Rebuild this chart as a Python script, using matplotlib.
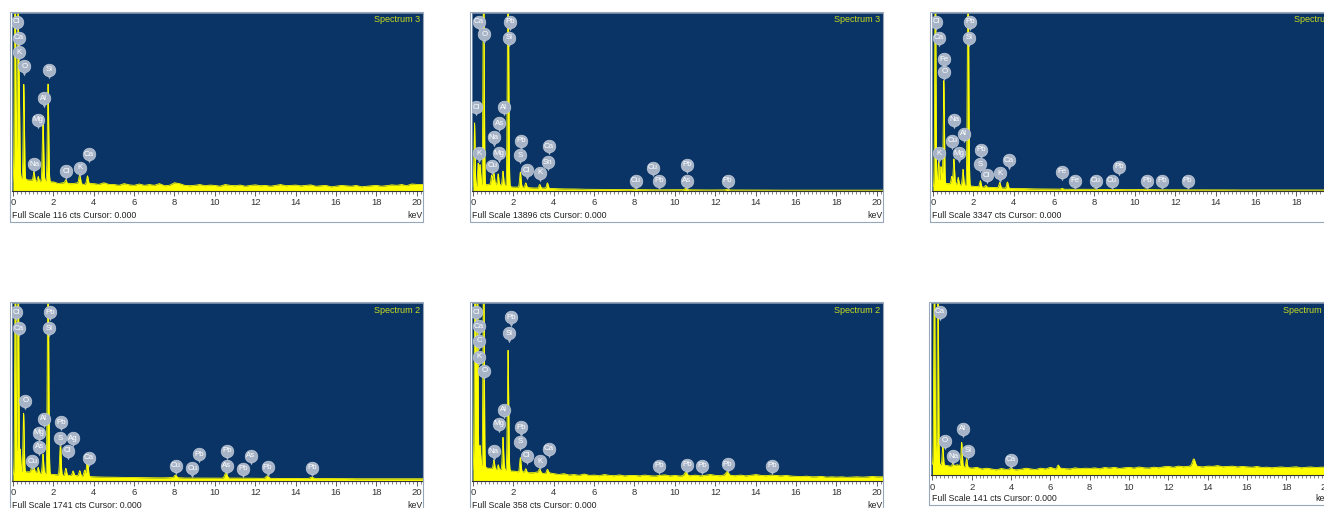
import numpy as np
import matplotlib
matplotlib.use("Agg")
import matplotlib.pyplot as plt
from matplotlib.patches import Rectangle
from matplotlib.ticker import MultipleLocator
from matplotlib.transforms import offset_copy

plt.rcParams['font.family'] = ['Liberation Sans', 'DejaVu Sans']

W, H = 1324, 508

# ---- data (peak keV / peak height as fraction of full scale) ----
# top left
tl_peak_kev = [0.10, 0.24, 0.31, 0.54, 1.04, 1.25, 1.49, 1.74, 2.62, 3.31, 3.69]
tl_peak_h = [1.3, 1.3, 0.52, 0.53, 0.05, 0.03, 0.36, 0.55, 0.02, 0.05, 0.045]
tl_bg = [0.05, 0.07, 0.07, 0.06, 0.06, 0.05, 0.06, 0.05, 0.05, 0.04, 0.045, 0.04,
         0.04, 0.045, 0.035, 0.04, 0.04, 0.035, 0.045, 0.035, 0.035, 0.03, 0.04, 0.033,
         0.03, 0.038, 0.03, 0.035, 0.03, 0.04, 0.028, 0.03, 0.045, 0.04, 0.03, 0.028,
         0.03, 0.035, 0.028, 0.032, 0.03, 0.025, 0.035, 0.03, 0.028, 0.032, 0.025, 0.03,
         0.033, 0.028, 0.03, 0.025, 0.03, 0.035, 0.028, 0.03, 0.032, 0.027, 0.03, 0.033,
         0.025, 0.028, 0.03, 0.022, 0.025, 0.03, 0.028, 0.025, 0.03, 0.022, 0.025, 0.028,
         0.03, 0.025, 0.028, 0.033, 0.03, 0.035, 0.028, 0.038, 0.035]
tl_lab_names = ['Cl', 'Ca', 'K', 'O', 'Si', 'Al', 'Mg', 'Na', 'Cl', 'K', 'Ca']
tl_lab_kev = [0.18, 0.30, 0.28, 0.56, 1.79, 1.52, 1.23, 1.06, 2.65, 3.30, 3.75]
tl_lab_y = [0.95, 0.86, 0.78, 0.70, 0.68, 0.52, 0.40, 0.15, 0.11, 0.13, 0.205]

# top middle
tm_peak_kev = [0.08, 0.26, 0.35, 0.53, 0.93, 1.04, 1.25, 1.49, 1.74, 2.35, 2.62, 3.31, 3.69, 8.05, 10.55, 12.6]
tm_peak_h = [0.36, 0.13, 0.12, 1.3, 0.05, 0.06, 0.06, 0.08, 1.3, 0.085, 0.025, 0.02, 0.03, 0.005, 0.008, 0.004]
tm_bg = [0.02, 0.03, 0.04, 0.03, 0.02, 0.02, 0.015, 0.015, 0.012, 0.01, 0.01, 0.008, 0.008, 0.007,
         0.007, 0.006, 0.006, 0.006, 0.005, 0.005, 0.005, 0.005, 0.005, 0.004, 0.004, 0.004, 0.004,
         0.004, 0.004, 0.004, 0.003, 0.003, 0.003, 0.003, 0.003, 0.003, 0.003, 0.003, 0.003, 0.003, 0.003]
tm_lab_names = ['Ca', 'O', 'Pb', 'Si', 'Cl', 'Al', 'As', 'Na', 'K', 'Mg', 'Cu', 'Pb', 'S', 'Cl', 'K',
                'Ca', 'Sn', 'Cu', 'Cu', 'Pb', 'Pb', 'As', 'Pb']
tm_lab_kev = [0.28, 0.56, 1.85, 1.80, 0.17, 1.52, 1.30, 1.02, 0.28, 1.27, 0.97, 2.39, 2.34, 2.67, 3.30,
              3.75, 3.70, 8.91, 8.07, 9.23, 10.60, 10.60, 12.62]
tm_lab_y = [0.95, 0.88, 0.95, 0.86, 0.47, 0.47, 0.38, 0.30, 0.21, 0.21, 0.14, 0.28, 0.20, 0.114, 0.10,
            0.25, 0.16, 0.13, 0.055, 0.055, 0.145, 0.055, 0.055]

# top right
tr_peak_kev = [0.12, 0.28, 0.40, 0.54, 0.93, 1.04, 1.25, 1.49, 1.74, 2.35, 2.62, 3.31, 3.69, 6.40, 8.05, 10.55]
tr_peak_h = [1.3, 0.14, 0.10, 0.58, 0.04, 0.14, 0.04, 0.09, 1.3, 0.035, 0.01, 0.03, 0.035, 0.005, 0.004, 0.004]
tr_bg = [0.02, 0.04, 0.04, 0.03, 0.025, 0.02, 0.018, 0.015, 0.012, 0.012, 0.01, 0.01, 0.009, 0.008,
         0.008, 0.008, 0.007, 0.007, 0.007, 0.006, 0.006, 0.006, 0.006, 0.005, 0.005, 0.005, 0.005,
         0.005, 0.005, 0.005, 0.004, 0.004, 0.004, 0.004, 0.004, 0.004, 0.004, 0.004, 0.004, 0.004, 0.004]
tr_lab_names = ['Cl', 'Ca', 'Pb', 'Si', 'Fe', 'O', 'Na', 'Cu', 'Al', 'K', 'Mg', 'Pb', 'S', 'Cl', 'K',
                'Ca', 'Fe', 'Fe', 'Cu', 'Cu', 'Pb', 'Pb', 'Pb', 'Pb']
tr_lab_kev = [0.17, 0.28, 1.85, 1.80, 0.56, 0.56, 1.06, 0.97, 1.52, 0.28, 1.27, 2.39, 2.34, 2.67, 3.30,
              3.75, 6.39, 7.05, 8.07, 8.86, 9.23, 10.60, 11.37, 12.62]
tr_lab_y = [0.95, 0.86, 0.95, 0.86, 0.74, 0.67, 0.40, 0.28, 0.32, 0.21, 0.21, 0.23, 0.15, 0.088, 0.098,
            0.17, 0.107, 0.055, 0.055, 0.055, 0.135, 0.055, 0.055, 0.055]

# bottom left
bl_peak_kev = [0.12, 0.26, 0.36, 0.53, 0.93, 1.04, 1.25, 1.49, 1.74, 2.35, 2.62, 2.98, 3.31, 3.55,
               3.69, 8.05, 10.55, 12.6, 14.8]
bl_peak_h = [1.3, 1.3, 0.13, 0.33, 0.03, 0.03, 0.03, 0.11, 1.3, 0.19, 0.04, 0.025, 0.03, 0.035,
             0.11, 0.015, 0.03, 0.015, 0.008]
bl_bg = [0.03, 0.05, 0.05, 0.04, 0.035, 0.03, 0.03, 0.025, 0.022, 0.02, 0.02, 0.018, 0.018, 0.017,
         0.016, 0.016, 0.018, 0.015, 0.015, 0.015, 0.015, 0.014, 0.015, 0.014, 0.014, 0.013, 0.013,
         0.013, 0.013, 0.012, 0.012, 0.012, 0.012, 0.012, 0.011, 0.011, 0.011, 0.011, 0.011, 0.011, 0.011]
bl_lab_names = ['Cl', 'Ca', 'Pb', 'Si', 'O', 'Al', 'Mg', 'As', 'Cu', 'Pb', 'S', 'Ag', 'Cl', 'Ca',
                'Cu', 'Cu', 'Pb', 'Pb', 'As', 'Pb', 'As', 'Pb', 'Pb']
bl_lab_kev = [0.17, 0.28, 1.85, 1.80, 0.61, 1.52, 1.27, 1.30, 0.97, 2.39, 2.34, 2.97, 2.71, 3.75,
              8.07, 8.89, 9.24, 10.60, 10.60, 11.42, 11.78, 12.62, 14.84]
bl_lab_y = [0.95, 0.86, 0.95, 0.86, 0.45, 0.35, 0.27, 0.19, 0.11, 0.33, 0.24, 0.24, 0.17, 0.13,
            0.084, 0.07, 0.15, 0.17, 0.084, 0.066, 0.14, 0.075, 0.073]

# bottom middle
bm_peak_kev = [0.10, 0.22, 0.35, 0.53, 1.04, 1.25, 1.49, 1.74, 2.35, 2.62, 3.31, 3.69, 10.55, 12.6]
bm_peak_h = [1.3, 1.3, 0.12, 1.3, 0.05, 0.03, 0.18, 0.68, 0.08, 0.02, 0.02, 0.02, 0.02, 0.02]
bm_bg = [0.06, 0.08, 0.08, 0.07, 0.07, 0.06, 0.065, 0.055, 0.055, 0.05, 0.05, 0.045,
         0.045, 0.05, 0.04, 0.045, 0.04, 0.035, 0.04, 0.032, 0.035, 0.03, 0.038, 0.03,
         0.032, 0.028, 0.035, 0.03, 0.028, 0.033, 0.027, 0.03, 0.03, 0.027, 0.032, 0.028,
         0.026, 0.03, 0.033, 0.027, 0.03, 0.026, 0.03, 0.028, 0.032, 0.027, 0.03, 0.035,
         0.03, 0.028, 0.033, 0.03, 0.028, 0.032, 0.027, 0.03, 0.035, 0.03, 0.028, 0.032,
         0.03, 0.027, 0.03, 0.026, 0.025, 0.023, 0.026, 0.022, 0.022, 0.025, 0.02, 0.022,
         0.02, 0.022, 0.019, 0.02, 0.022, 0.02, 0.021, 0.024, 0.022]
bm_lab_names = ['Cl', 'Ca', 'C', 'K', 'O', 'Pb', 'Si', 'Al', 'Mg', 'Na', 'Pb', 'S', 'Cl', 'K', 'Ca',
                'Pb', 'Pb', 'Pb', 'Pb', 'Pb']
bm_lab_kev = [0.17, 0.28, 0.31, 0.28, 0.56, 1.88, 1.80, 1.52, 1.27, 1.02, 2.39, 2.34, 2.67, 3.30, 3.75,
              9.23, 10.60, 11.37, 12.62, 14.84]
bm_lab_y = [0.95, 0.87, 0.79, 0.70, 0.62, 0.92, 0.83, 0.40, 0.32, 0.165, 0.30, 0.22, 0.14, 0.11, 0.18,
            0.085, 0.09, 0.083, 0.094, 0.083]

# bottom right
br_peak_kev = [0.10, 0.28, 0.53, 1.04, 1.49, 1.74, 4.0, 6.4, 13.3]
br_peak_h = [1.3, 1.3, 0.11, 0.02, 0.14, 0.05, 0.01, 0.02, 0.04]
br_bg = [0.06, 0.06, 0.06, 0.055, 0.05, 0.06, 0.05, 0.045, 0.04, 0.045, 0.035, 0.04,
         0.035, 0.03, 0.038, 0.032, 0.035, 0.03, 0.033, 0.04, 0.035, 0.032, 0.04, 0.035,
         0.045, 0.035, 0.04, 0.037, 0.035, 0.042, 0.037, 0.04, 0.038, 0.042, 0.036, 0.044,
         0.04, 0.045, 0.038, 0.042, 0.045, 0.04, 0.047, 0.042, 0.04, 0.046, 0.042, 0.048,
         0.05, 0.045, 0.052, 0.048, 0.05, 0.055, 0.05, 0.047, 0.052, 0.05, 0.055, 0.048,
         0.05, 0.052, 0.047, 0.05, 0.048, 0.045, 0.05, 0.044, 0.046, 0.042, 0.045, 0.047,
         0.043, 0.045, 0.048, 0.042, 0.045, 0.047, 0.043, 0.046, 0.045]
br_lab_names = ['Ca', 'O', 'Al', 'Na', 'Si', 'Ca']
br_lab_kev = [0.39, 0.64, 1.54, 1.07, 1.80, 4.00]
br_lab_y = [0.95, 0.20, 0.27, 0.11, 0.14, 0.09]

full_scale = [116, 13896, 3347, 1741, 358, 141]
spectrum_names = ['Spectrum 3', 'Spectrum 3', 'Spectrum 3', 'Spectrum 2', 'Spectrum 2', 'Spectrum 1']

BLUE = '#0a3466'
YELLOW = '#ffff00'
PIN = '#a7b4c8'

fig = plt.figure(figsize=(W / 100, H / 100), dpi=100)
fig.patch.set_facecolor('white')


def draw_panel(left, top, width, height, strip, xmin, xmax,
               pk_kev, pk_h, bg, names, lab_kev, lab_y, counts, title):
    ax = fig.add_axes([left / W, 1 - (top + height) / H, width / W, height / H])
    ax.set_facecolor(BLUE)

    # spectrum: background + narrow lines
    e = np.arange(0, 20.45, 0.005)
    y = np.interp(e, np.linspace(0, 20, len(bg)), bg)
    for pe, ph in zip(pk_kev, pk_h):
        sig = 0.028 + 0.003 * pe
        y = y + ph * np.exp(-0.5 * ((e - pe) / sig) ** 2)
    ax.fill_between(e, 0, y, color=YELLOW, lw=0, zorder=2)
    ax.plot(e, y, color=YELLOW, lw=0.6, zorder=2)

    ax.set_xlim(xmin, xmax)
    ax.set_ylim(0, 1)
    ax.set_yticks([])
    ax.set_xticks(range(0, 21, 2))
    ax.xaxis.set_minor_locator(MultipleLocator(0.2))
    ax.tick_params(axis='x', which='major', direction='out', length=3.8, width=0.6,
                   color='#444444', labelsize=6.8, labelcolor='#333333', pad=1.6)
    ax.tick_params(axis='x', which='minor', direction='out', length=1.8, width=0.5, color='#555555')
    for s in ['top', 'left', 'right']:
        ax.spines[s].set_color('#8095b0')
        ax.spines[s].set_linewidth(0.6)
    ax.spines['bottom'].set_color('#333333')
    ax.spines['bottom'].set_linewidth(0.8)

    # element pins
    tail = offset_copy(ax.transData, fig=fig, x=0, y=-5.2, units='points')
    ax.scatter(lab_kev, lab_y, marker='v', s=7, color=PIN, lw=0, zorder=3, transform=tail)
    ax.scatter(lab_kev, lab_y, marker='o', s=84, color=PIN, edgecolor='#c8d1de', lw=0.4, zorder=4)
    for n, xk, yf in zip(names, lab_kev, lab_y):
        ax.text(xk, yf, n, ha='center', va='center', fontsize=5.7, color='white',
                zorder=5, clip_on=True)

    ax.text(1 - 3 / width, 1 - 7 / height, title, transform=ax.transAxes, ha='right',
            va='center', fontsize=6.5, color='#c9dc1e')

    # white strip + frame
    fig.add_artist(Rectangle(((left - 2) / W, 1 - (top + height + strip) / H),
                             (width + 2) / W, (height + strip + 1) / H,
                             transform=fig.transFigure, fill=False, ec='#98a6ba', lw=0.8))
    fig.text((left + 0.5) / W, 1 - (top + height + strip - 6.5) / H,
             f'Full Scale {counts} cts Cursor: 0.000', fontsize=6.3, color='#222222',
             ha='left', va='center')
    fig.text((left + width - 1) / W, 1 - (top + height + strip - 6.5) / H, 'keV',
             fontsize=6.3, color='#222222', ha='right', va='center')
    return ax


draw_panel(11.7, 13, 411.6, 177.7, 31, -0.06, 20.33,
           tl_peak_kev, tl_peak_h, tl_bg, tl_lab_names, tl_lab_kev, tl_lab_y, full_scale[0], spectrum_names[0])
draw_panel(471.7, 13, 411.6, 177.7, 31, -0.06, 20.33,
           tm_peak_kev, tm_peak_h, tm_bg, tm_lab_names, tm_lab_kev, tm_lab_y, full_scale[1], spectrum_names[1])
draw_panel(931.7, 13, 411.6, 177.7, 31, -0.06, 20.33,
           tr_peak_kev, tr_peak_h, tr_bg, tr_lab_names, tr_lab_kev, tr_lab_y, full_scale[2], spectrum_names[2])
draw_panel(11.7, 303.3, 411.6, 177.4, 31, -0.06, 20.33,
           bl_peak_kev, bl_peak_h, bl_bg, bl_lab_names, bl_lab_kev, bl_lab_y, full_scale[3], spectrum_names[3])
draw_panel(471.7, 303.3, 411.6, 177.4, 31, -0.06, 20.33,
           bm_peak_kev, bm_peak_h, bm_bg, bm_lab_names, bm_lab_kev, bm_lab_y, full_scale[4], spectrum_names[4])
draw_panel(931.0, 303.3, 401.0, 171.7, 30, -0.07, 20.33,
           br_peak_kev, br_peak_h, br_bg, br_lab_names, br_lab_kev, br_lab_y, full_scale[5], spectrum_names[5])

fig.savefig('out.png', dpi=100, facecolor='white')
